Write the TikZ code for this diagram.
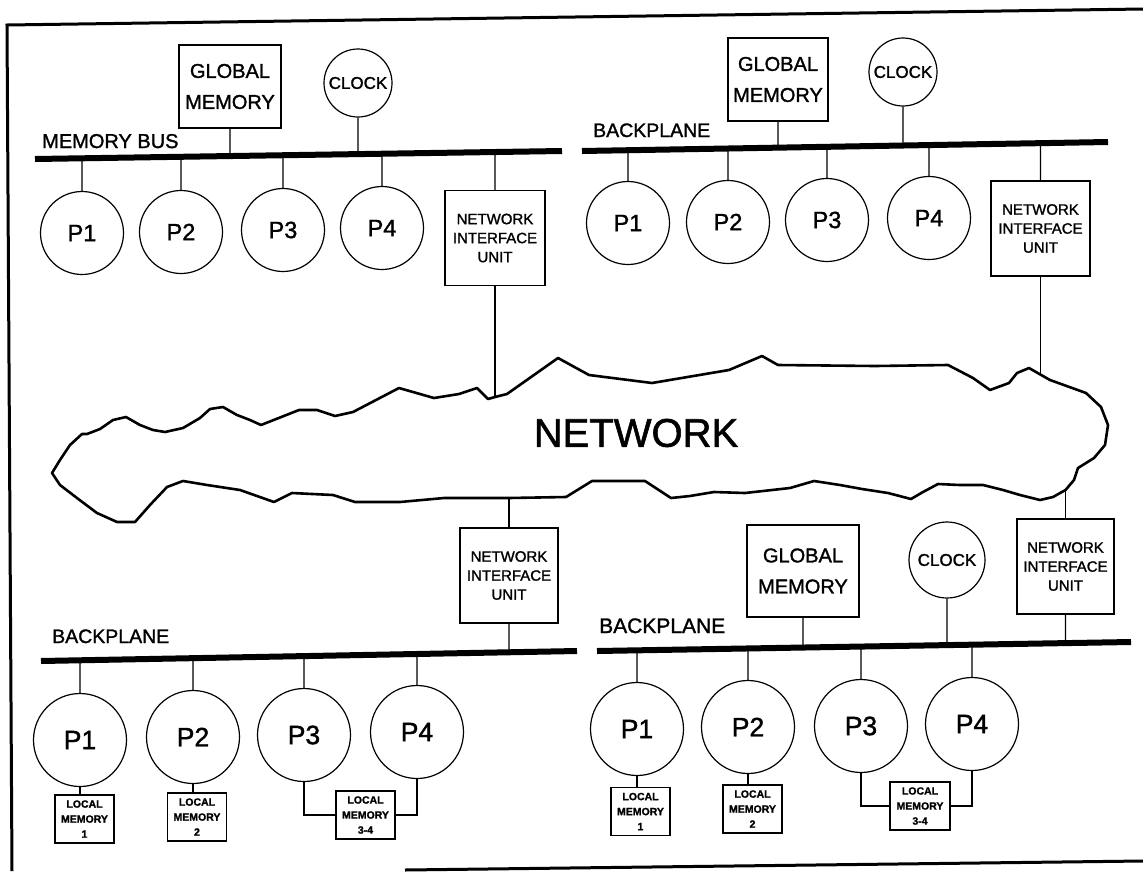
\documentclass[tikz,border=0pt]{standalone}
\usepackage{fontspec}
\setmainfont{Liberation Sans}[FakeBold=1.4]
\begin{document}
\begin{tikzpicture}[x=1pt,y=-1pt,
  link/.style={line width=1.2pt},
  busline/.style={line width=6pt},
  frameline/.style={line width=3pt},
  proc/.style={draw, line width=1.2pt, circle, inner sep=0pt, minimum size=83pt, font=\fontsize{23.5}{23.5}\selectfont},
  procL/.style={proc, minimum size=93pt, font=\fontsize{26.5}{26.5}\selectfont},
  clk/.style={draw, line width=1.2pt, circle, inner sep=0pt, minimum size=68pt, font=\fontsize{17}{17}\selectfont},
  gmem/.style={draw, line width=1.2pt, rectangle, inner sep=0pt, align=center, font=\fontsize{20}{31}\selectfont},
  niu/.style={draw, line width=1.2pt, rectangle, inner sep=0pt, align=center, minimum height=95pt, font=\fontsize{15}{19}\selectfont},
  lmem/.style={draw, line width=1.2pt, rectangle, inner sep=0pt, align=center, minimum width=59pt, minimum height=48pt, font=\fontsize{10.5}{15}\selectfont\bfseries},
  buslabel/.style={anchor=base west, inner sep=0pt, font=\fontsize{20}{20}\selectfont}]
\useasboundingbox (0,0) rectangle (1143,871);
\fill[white] (0,0) rectangle (1143,871);

% frame
\draw[frameline] (1143,9) -- (7,25) -- (12,871);
\draw[frameline] (405,870) -- (1143,861);

% cloud
\draw[line width=2.6pt, line join=round]
 (52,473) -- (60,460) -- (70,445) -- (82,434) -- (87,434) -- (100,429) -- (113,420) -- (126,417)
 -- (140,425) -- (153,430) -- (165,432) -- (183,428) -- (200,418) -- (210,409) -- (223,407)
 -- (237,415) -- (250,420) -- (261,425) -- (299,410) -- (317,410) -- (335,416) -- (353,412)
 -- (399,388) -- (434,398) -- (459,394) -- (477,388) -- (488,399) -- (495,397) coordinate (cTL)
 -- (507,394) -- (558,358) -- (589,375) -- (652,383) -- (729,370) -- (762,356) -- (778,365)
 -- (875,366) -- (948,365) -- (973,378) -- (990,390) -- (1009,383) -- (1017,373) -- (1029,368)
 -- (1040.5,374.6) coordinate (cTR) -- (1050,380) -- (1086,393) -- (1101,407) -- (1108,425)
 -- (1105,445) -- (1094,458) -- (1078,468) -- (1074,480) -- (1065.5,490) coordinate (cBR)
 -- (1053,497) -- (1040,500) -- (1020,495) -- (1003,490) -- (983,485) -- (960,485) -- (938,484)
 -- (923,492) -- (911,499) -- (888,493) -- (862,489) -- (840,485) -- (814,481) -- (790,488)
 -- (745,493) -- (714,492) -- (690,496) -- (671,498) -- (645,481) -- (592,481) -- (566,497)
 -- (509,498) coordinate (cBL) -- (444,498) -- (400,502) -- (355,502) -- (333,495) -- (292,493)
 -- (274,502) -- (240,490) -- (207,485) -- (183,481) -- (167,487) -- (150,505) -- (135,522)
 -- (117,522) -- (97,513) -- (77,498) -- (60,485) -- cycle;
\node[font=\fontsize{40}{40}\selectfont] (net) at (636,433) {NETWORK};

% ---------- top-left ----------
\coordinate (tlA) at (35,159); \coordinate (tlB) at (562,151);
\draw[busline] (tlA) -- (tlB);
\node[buslabel] (tlLab) at (42,148) {MEMORY BUS};
\node[gmem, minimum width=102pt, minimum height=83pt] (tlGM) at (230,86.5) {GLOBAL\\MEMORY};
\node[clk] (tlC) at (358,83) {CLOCK};
\node[proc] (tlP1) at (82,233) {P1};
\node[proc] (tlP2) at (181,232) {P2};
\node[proc] (tlP3) at (283,230) {P3};
\node[proc] (tlP4) at (382,228) {P4};
\node[niu, minimum width=100pt] (tlN) at (495,238) {NETWORK\\INTERFACE\\UNIT};
\foreach \n in {tlGM,tlC,tlP1,tlP2,tlP3,tlP4,tlN}
  \draw[link] (\n) -- (intersection of \n.north--\n.south and tlA--tlB);
\draw[link] (tlN.south) -- (cTL);

% ---------- top-right ----------
\coordinate (trA) at (582,151); \coordinate (trB) at (1108,142);
\draw[busline] (trA) -- (trB);
\node[buslabel, font=\fontsize{19.5}{19.5}\selectfont] (trLab) at (593,137) {BACKPLANE};
\node[gmem, minimum width=100pt, minimum height=83pt] (trGM) at (778,79.5) {GLOBAL\\MEMORY};
\node[clk] (trC) at (903,72) {CLOCK};
\node[proc] (trP1) at (628,223) {P1};
\node[proc] (trP2) at (728,222) {P2};
\node[proc] (trP3) at (827,220) {P3};
\node[proc] (trP4) at (929,218) {P4};
\node[niu, minimum width=99pt] (trN) at (1040.5,228.5) {NETWORK\\INTERFACE\\UNIT};
\foreach \n in {trGM,trC,trP1,trP2,trP3,trP4,trN}
  \draw[link] (\n) -- (intersection of \n.north--\n.south and trA--trB);
\draw[link] (trN.south) -- (cTR);

% ---------- bottom-left ----------
\coordinate (blA) at (41,661); \coordinate (blB) at (577,651);
\draw[busline] (blA) -- (blB);
\node[buslabel, font=\fontsize{19.5}{19.5}\selectfont] (blLab) at (52,643) {BACKPLANE};
\node[niu, minimum width=98pt] (blN) at (509,575.5) {NETWORK\\INTERFACE\\UNIT};
\node[procL] (blP1) at (80,740) {P1};
\node[procL] (blP2) at (193,737) {P2};
\node[procL] (blP3) at (304,735) {P3};
\node[procL] (blP4) at (417,732) {P4};
\foreach \n in {blN,blP1,blP2,blP3,blP4}
  \draw[link] (\n) -- (intersection of \n.north--\n.south and blA--blB);
\draw[link] (blN.north) -- (cBL);
\node[lmem] (blM1) at (84.5,819) {LOCAL\\MEMORY\\1};
\node[lmem] (blM2) at (197,817) {LOCAL\\MEMORY\\2};
\node[lmem] (blM34) at (365.5,815) {LOCAL\\MEMORY\\3-4};
\draw[link] (blP1.south) -- (blP1.south |- blM1.north);
\draw[link] (blP2.south) -- (blP2.south |- blM2.north);
\draw[link] (blP3.south) |- (blM34.west);
\draw[link] (blP4.south) |- (blM34.east);

% ---------- bottom-right ----------
\coordinate (brA) at (597,651); \coordinate (brB) at (1131,642);
\draw[busline] (brA) -- (brB);
\node[buslabel, font=\fontsize{21}{21}\selectfont] (brLab) at (599,633) {BACKPLANE};
\node[gmem, minimum width=112pt, minimum height=92pt] (brGM) at (803,571) {GLOBAL\\MEMORY};
\node[clk, minimum size=76pt] (brC) at (947,560) {CLOCK};
\node[niu, minimum width=97pt] (brN) at (1065.5,566.5) {NETWORK\\INTERFACE\\UNIT};
\node[procL] (brP1) at (637,729) {P1};
\node[procL] (brP2) at (748,727) {P2};
\node[procL] (brP3) at (861,726) {P3};
\node[procL] (brP4) at (972,724) {P4};
\foreach \n in {brGM,brC,brN,brP1,brP2,brP3,brP4}
  \draw[link] (\n) -- (intersection of \n.north--\n.south and brA--brB);
\draw[link] (brN.north) -- (cBR);
\node[lmem] (brM1) at (640.5,811.5) {LOCAL\\MEMORY\\1};
\node[lmem] (brM2) at (752.5,809) {LOCAL\\MEMORY\\2};
\node[lmem, minimum width=60pt] (brM34) at (920,806) {LOCAL\\MEMORY\\3-4};
\draw[link] (brP1.south) -- (brP1.south |- brM1.north);
\draw[link] (brP2.south) -- (brP2.south |- brM2.north);
\draw[link] (brP3.south) |- (brM34.west);
\draw[link] (brP4.south) |- (brM34.east);
\end{tikzpicture}
\end{document}
